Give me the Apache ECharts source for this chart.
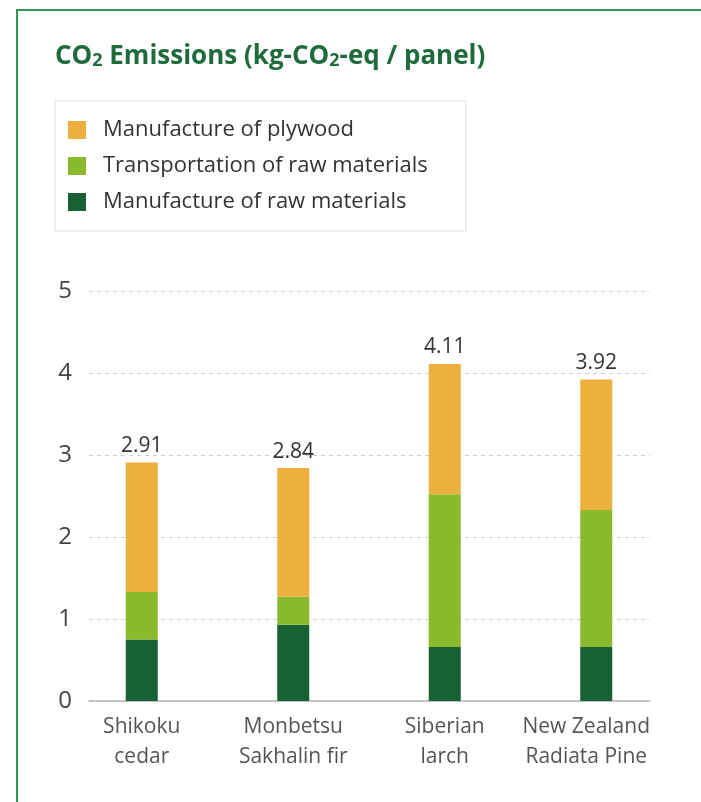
<!DOCTYPE html>
<html>
<head>
<meta charset="utf-8">
<script src="https://cdn.jsdelivr.net/npm/echarts@6/dist/echarts.min.js"></script>
<style>
html,body{margin:0;padding:0;background:#fff;}
#frame{position:absolute;left:16px;top:9px;width:700px;height:800px;border-left:2px solid #2f9a55;border-top:2px solid #2f9a55;}
#chart{position:absolute;left:0;top:0;width:701px;height:802px;}
</style>
</head>
<body>
<div id="frame"></div>
<div id="chart"></div>
<script>
const categories = ['Shikoku\ncedar', 'Monbetsu\nSakhalin fir', 'Siberian\nlarch', 'New Zealand\nRadiata Pine'];
const seriesNames = ['Manufacture of raw materials', 'Transportation of raw materials', 'Manufacture of plywood'];
const rawMaterials = [0.75, 0.93, 0.66, 0.66];
const transportation = [0.58, 0.34, 1.86, 1.67];
const plywood = [1.58, 1.57, 1.59, 1.59];
const totals = ['2.91', '2.84', '4.11', '3.92'];
const yTicks = [0, 1, 2, 3, 4, 5];

const colors = ['#176134', '#8aba2c', '#edb03f'];
const font = 'Open Sans';

const chart = echarts.init(document.getElementById('chart'));
chart.setOption({
  animation: false,
  backgroundColor: 'transparent',
  textStyle: { fontFamily: font },
  title: {
    left: 50, top: 39,
    text: '{a|CO}{s|2}{a| Emissions (kg-CO}{s|2}{a|-eq / panel)}',
    textStyle: {
      rich: {
        a: { fontFamily: font, fontSize: 26, fontWeight: 'bold', color: '#1e6b3b', letterSpacing: -1.1 },
        s: { fontFamily: font, fontSize: 18, fontWeight: 'bold', color: '#1e6b3b', padding: [7, 0, 0, 0] }
      }
    }
  },
  legend: {
    orient: 'vertical',
    left: 55, top: 101,
    padding: [18, 38, 18, 13],
    borderColor: '#dcdcdc', borderWidth: 1,
    itemWidth: 18, itemHeight: 18, itemGap: 14,
    icon: 'rect',
    data: [seriesNames[2], seriesNames[1], seriesNames[0]],
    textStyle: { fontFamily: font, fontSize: 22, color: '#333', lineHeight: 20, padding: [0, 0, 0, 12] }
  },
  grid: [
    { left: 89, right: 51, top: 291, bottom: 101 },
    { left: 66, right: 29, top: 291, bottom: 101 }
  ],
  xAxis: [
    { type: 'category', gridIndex: 0, data: categories,
      axisLine: { lineStyle: { color: '#b5b5b5', width: 1.5 } },
      axisTick: { show: false }, axisLabel: { show: false } },
    { type: 'category', gridIndex: 1,
      data: categories.map((c, i) => i === categories.length - 1 ? { value: c, textStyle: { padding: [0, 20, 0, 0] } } : c),
      axisLine: { show: false }, axisTick: { show: false },
      axisLabel: { fontFamily: font, fontSize: 21, color: '#555', lineHeight: 30, margin: 11, interval: 0 } }
  ],
  yAxis: [
    { type: 'value', gridIndex: 0, min: yTicks[0], max: yTicks[yTicks.length - 1], interval: 1,
      axisLine: { show: false }, axisTick: { show: false },
      axisLabel: { fontFamily: font, fontSize: 24, color: '#444', margin: 17 },
      splitLine: { lineStyle: { color: '#cfcfcf', type: [4, 4], width: 1 } } },
    { type: 'value', gridIndex: 1, min: yTicks[0], max: yTicks[yTicks.length - 1], interval: 1,
      show: false, splitLine: { show: false } }
  ],
  series: [
    { name: seriesNames[0], type: 'bar', stack: 's', xAxisIndex: 1, yAxisIndex: 1, data: rawMaterials,
      barWidth: 32, itemStyle: { color: colors[0] } },
    { name: seriesNames[1], type: 'bar', stack: 's', xAxisIndex: 1, yAxisIndex: 1, data: transportation,
      barWidth: 32, itemStyle: { color: colors[1] } },
    { name: seriesNames[2], type: 'bar', stack: 's', xAxisIndex: 1, yAxisIndex: 1, data: plywood,
      barWidth: 32, itemStyle: { color: colors[2] },
      label: { show: true, position: 'top', distance: 6, fontFamily: font, fontSize: 21, color: '#333',
        formatter: p => totals[p.dataIndex] } }
  ]
});
</script>
</body>
</html>
